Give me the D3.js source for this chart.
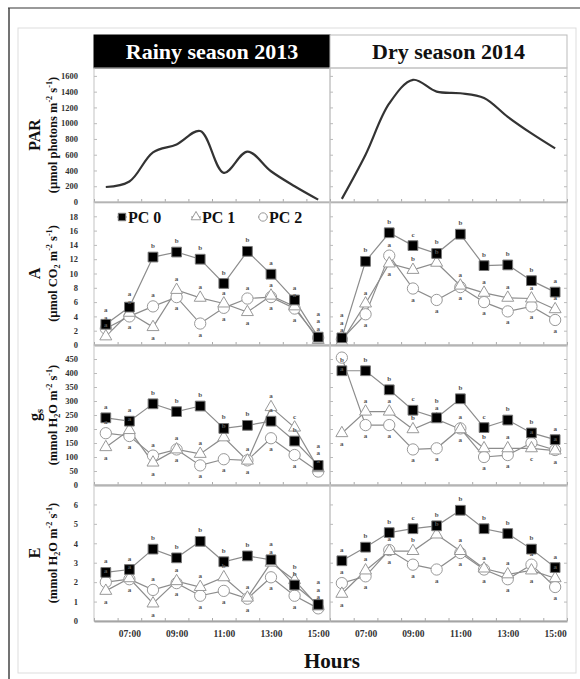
<!DOCTYPE html>
<html>
<head>
<meta charset="utf-8">
<script src="https://cdn.jsdelivr.net/npm/d3@7"></script>
<style>
body { margin: 0; background: #fff; }
text { font-family: "Liberation Serif", "Times New Roman", serif; font-weight: bold; }
</style>
</head>
<body>
<div id="chart"></div>
<script>
var svgWidth = 580;
var svgHeight = 679;

// measurement hours and axis labels
var hours = [6, 7, 8, 9, 10, 11, 12, 13, 14, 15];
var labelHours = [7, 9, 11, 13, 15];
var hourLabels = ["07:00", "09:00", "11:00", "13:00", "15:00"];
var seasons = ["Rainy season 2013", "Dry season 2014"];
var seriesNames = ["PC 0", "PC 1", "PC 2"];

// PAR
var parRainy = [190, 260, 630, 730, 900, 370, 640, 390, 200, 30];
var parDry = [40, 600, 1250, 1550, 1400, 1380, 1320, 1080, 870, 680];

// A (net photosynthesis)
var aRainyPC0 = [2.9, 5.3, 12.3, 13.0, 12.0, 8.6, 13.1, 9.9, 6.3, 1.1];
var aRainyPC1 = [1.2, 4.5, 2.5, 7.7, 6.6, 5.8, 4.6, 6.9, 5.4, 0.7];
var aRainyPC2 = [2.3, 4.0, 5.4, 6.7, 3.0, 5.2, 6.5, 6.7, 5.1, 1.0];
var aDryPC0 = [1.0, 11.7, 15.7, 13.9, 12.8, 15.5, 11.1, 11.2, 9.0, 7.4];
var aDryPC1 = [0.5, 5.8, 11.4, 10.5, 11.5, 8.3, 7.3, 6.6, 6.5, 5.0];
var aDryPC2 = [0.8, 4.3, 12.5, 7.9, 6.3, 8.1, 6.0, 4.7, 5.4, 3.5];

// gs (stomatal conductance)
var gsRainyPC0 = [240, 228, 290, 262, 282, 202, 213, 228, 157, 70];
var gsRainyPC1 = [135, 196, 80, 127, 111, 170, 87, 278, 205, 60];
var gsRainyPC2 = [185, 175, 105, 127, 70, 92, 88, 167, 107, 48];
var gsDryPC0 = [408, 408, 340, 267, 240, 308, 205, 232, 186, 162];
var gsDryPC1 = [185, 262, 262, 199, 235, 199, 131, 131, 131, 123];
var gsDryPC2 = [455, 214, 214, 127, 131, 202, 100, 107, 150, 125];

// E (transpiration)
var eRainyPC0 = [2.5, 2.65, 3.7, 3.25, 4.1, 3.05, 3.35, 3.15, 1.85, 0.85];
var eRainyPC1 = [1.55, 2.2, 0.9, 2.05, 1.75, 2.25, 1.2, 3.0, 2.1, 0.75];
var eRainyPC2 = [2.0, 2.15, 1.6, 1.95, 1.3, 1.55, 1.15, 2.25, 1.3, 0.65];
var eDryPC0 = [3.1, 3.8, 4.55, 4.75, 4.9, 5.7, 4.75, 4.5, 3.7, 2.75];
var eDryPC1 = [1.4, 2.6, 3.6, 3.6, 4.45, 3.6, 2.7, 2.4, 2.6, 2.2];
var eDryPC2 = [1.95, 2.3, 3.65, 2.9, 2.65, 3.5, 2.65, 2.15, 2.9, 1.75];

// significance letters, one per hour
var aRainyLet = ["aabbbbbaaa", "aaaaaaaaaa", "aaaaaaaaaa"];
var aDryLet = ["abbcbbbbba", "aaabbaaaaa", "aaaaaaaaaa"];
var gsRainyLet = ["aabbbbbaba", "aaaaabaaca", "aaaaaaaaaa"];
var gsDryLet = ["bbbcbbcbba", "aaabaabaca", "aaaaaaaaaa"];
var eRainyLet = ["aabbbbbaba", "aaaaabaaba", "aaaaaaaaaa"];
var eDryLet = ["abbcbbbbba", "aaabbaaaaa", "aaaaaaaaaa"];

var svg = d3.select("#chart")
  .append("svg")
  .attr("width", svgWidth)
  .attr("height", svgHeight);

// outer frame of the figure
svg.append("line").attr("x1", 8).attr("x2", 580).attr("y1", 8).attr("y2", 8)
  .attr("stroke", "#999").attr("stroke-width", 2);
svg.append("line").attr("x1", 9).attr("x2", 9).attr("y1", 8).attr("y2", 679)
  .attr("stroke", "#444").attr("stroke-width", 1.5);
svg.append("rect").attr("x", 18).attr("y", 28).attr("width", 558).attr("height", 645)
  .attr("fill", "none").attr("stroke", "#ddd");

var cols = [
  { x0: 94, x1: 330 },
  { x0: 330, x1: 567 }
];

var rows = [
  { key: "par", top: 68, bottom: 202, max: 1700, step: 200, last: 1600,
    title: [["PAR"]],
    units: [["(µmol photons m"], ["-2", "sup"], [" s"], ["-1", "sup"], [")"]] },
  { key: "a", top: 202, bottom: 345, max: 20, step: 2, last: 18,
    title: [["A"]],
    units: [["(µmol CO"], ["2", "sub"], [" m"], ["-2", "sup"], [" s"], ["-1", "sup"], [")"]] },
  { key: "gs", top: 345, bottom: 485, max: 500, step: 50, last: 450,
    title: [["g"], ["s", "sub"]],
    units: [["(mmol H"], ["2", "sub"], ["O m"], ["-2", "sup"], [" s"], ["-1", "sup"], [")"]] },
  { key: "e", top: 485, bottom: 621, max: 7, step: 1, last: 6,
    title: [["E"]],
    units: [["(mmol H"], ["2", "sub"], ["O m"], ["-2", "sup"], [" s"], ["-1", "sup"], [")"]] }
];

var seriesData = {
  a: [[aRainyPC0, aRainyPC1, aRainyPC2], [aDryPC0, aDryPC1, aDryPC2]],
  gs: [[gsRainyPC0, gsRainyPC1, gsRainyPC2], [gsDryPC0, gsDryPC1, gsDryPC2]],
  e: [[eRainyPC0, eRainyPC1, eRainyPC2], [eDryPC0, eDryPC1, eDryPC2]]
};
var letterData = {
  a: [aRainyLet, aDryLet],
  gs: [gsRainyLet, gsDryLet],
  e: [eRainyLet, eDryLet]
};
var parData = [parRainy, parDry];

// text with sub / superscripts
function richText(sel, parts, size) {
  var shift = 0;
  parts.forEach(function(p) {
    var target = 0;
    if (p[1] === "sup") target = -size * 0.4;
    if (p[1] === "sub") target = size * 0.2;
    var t = sel.append("tspan").text(p[0]).attr("dy", target - shift);
    if (p[1]) t.attr("font-size", size * 0.65);
    shift = target;
  });
}

// header
cols.forEach(function(c, i) {
  svg.append("rect")
    .attr("x", c.x0).attr("y", 35)
    .attr("width", c.x1 - c.x0).attr("height", 33)
    .attr("fill", i === 0 ? "#000" : "#fff")
    .attr("stroke", i === 0 ? "#000" : "#bbb");
  svg.append("text")
    .attr("x", (c.x0 + c.x1) / 2).attr("y", 59)
    .attr("text-anchor", "middle")
    .attr("font-size", 22)
    .attr("fill", i === 0 ? "#fff" : "#111")
    .text(seasons[i]);
});

var tickHalf = d3.range(5.5, 15.6, 1);

rows.forEach(function(row) {
  var y = d3.scaleLinear().domain([0, row.max]).range([row.bottom, row.top]);
  var yTicks = d3.range(0, row.last + row.step / 2, row.step);

  cols.forEach(function(c, ci) {
    var x = d3.scaleLinear().domain([5.5, 15.5]).range([c.x0, c.x1]);
    var g = svg.append("g");

    g.append("rect")
      .attr("x", c.x0).attr("y", row.top)
      .attr("width", c.x1 - c.x0).attr("height", row.bottom - row.top)
      .attr("fill", "none").attr("stroke", "#c4c4c4");

    // small inside ticks
    var leftAxis = d3.axisLeft(y).tickValues(yTicks).tickSizeInner(-3).tickSizeOuter(0);
    if (ci === 0) {
      leftAxis.tickPadding(16).tickFormat(d3.format("d"));
    } else {
      leftAxis.tickFormat("");
    }
    var la = g.append("g").attr("transform", `translate(${c.x0},0)`).call(leftAxis);
    la.select(".domain").remove();
    la.selectAll("line").attr("stroke", "#bbb");
    la.selectAll("text").attr("font-size", 8.5).attr("fill", "#333")
      .style("font-family", "'Liberation Serif', serif");

    if (ci === 1) {
      var ra = g.append("g").attr("transform", `translate(${c.x1},0)`)
        .call(d3.axisRight(y).tickValues(yTicks).tickSizeInner(-3).tickSizeOuter(0).tickFormat(""));
      ra.select(".domain").remove();
      ra.selectAll("line").attr("stroke", "#bbb");
    }

    var ba = g.append("g").attr("transform", `translate(0,${row.bottom})`)
      .call(d3.axisBottom(x).tickValues(tickHalf).tickSizeInner(-3).tickSizeOuter(0).tickFormat(""));
    ba.select(".domain").attr("stroke", "#a5a5a5").attr("stroke-width", row.key === "par" ? 1.5 : 2.2);
    ba.selectAll("line").attr("stroke", "#aaa");

    if (row.key === "e") {
      var xl = g.append("g").attr("transform", `translate(0,${row.bottom})`)
        .call(d3.axisBottom(x).tickValues(labelHours).tickSize(0).tickPadding(9)
          .tickFormat(function(d, i) { return hourLabels[i]; }));
      xl.select(".domain").remove();
      xl.selectAll("text").attr("font-size", 9.5).attr("fill", "#333")
        .style("font-family", "'Liberation Serif', serif");
    }

    if (row.key === "par") {
      var parLine = d3.line()
        .x(function(d, i) { return x(hours[i]); })
        .y(function(d) { return y(d); })
        .curve(d3.curveCatmullRom.alpha(0.5));
      g.append("path").datum(parData[ci])
        .attr("d", parLine)
        .attr("fill", "none").attr("stroke", "#333").attr("stroke-width", 2.2);
      return;
    }

    var sets = seriesData[row.key][ci];
    var lets = letterData[row.key][ci];
    var line = d3.line()
      .x(function(d, i) { return x(hours[i]); })
      .y(function(d) { return y(d); });

    sets.forEach(function(vals) {
      g.append("path").datum(vals).attr("d", line)
        .attr("fill", "none").attr("stroke", "#8c8c8c").attr("stroke-width", 1.2);
    });

    var symbols = [d3.symbolSquare, d3.symbolTriangle, d3.symbolCircle];
    var sizes = [95, 62, 100];
    [2, 1, 0].forEach(function(s) {
      g.selectAll(".m" + s)
        .data(sets[s]).enter()
        .append("path")
        .attr("transform", function(d, i) { return `translate(${x(hours[i])},${y(d)})`; })
        .attr("d", d3.symbol().type(symbols[s]).size(sizes[s]))
        .attr("fill", s === 0 ? "#000" : "#fff")
        .attr("stroke", s === 0 ? "#777" : "#999")
        .attr("stroke-width", 1);
    });

    // significance letters, kept inside the panel and pushed apart when they crowd
    function place(v, above) {
      var py = y(v);
      var ly = above ? py - 9 : py + 13;
      if (ly > row.bottom - 2) ly = py - 9;
      if (ly < row.top + 8) ly = py + 13;
      return ly;
    }
    hours.forEach(function(h, i) {
      var p0 = sets[0][i], p1 = sets[1][i], p2 = sets[2][i];
      var items = [
        { s: 0, y: place(p0, true) },
        { s: 1, y: place(p1, p1 >= p2) },
        { s: 2, y: place(p2, p2 > p1) }
      ].sort(function(a, b) { return a.y - b.y; });
      for (var k = items.length - 2; k >= 0; k--) {
        if (items[k].y > items[k + 1].y - 7.5) items[k].y = items[k + 1].y - 7.5;
      }
      items.forEach(function(it) {
        g.append("text")
          .attr("x", x(h)).attr("y", it.y)
          .attr("text-anchor", "middle")
          .attr("font-size", 7).attr("fill", "#555")
          .text(lets[it.s].charAt(i));
      });
    });

    // legend in the first A panel
    if (row.key === "a" && ci === 0) {
      var legX = [122, 196, 263];
      legX.forEach(function(lx, s) {
        g.append("line").attr("x1", lx - 5).attr("x2", lx + 5)
          .attr("y1", 217).attr("y2", 217).attr("stroke", "#8c8c8c");
        g.append("path")
          .attr("transform", `translate(${lx},217)`)
          .attr("d", d3.symbol().type(symbols[s]).size(s === 1 ? 40 : 55))
          .attr("fill", s === 0 ? "#000" : "#fff")
          .attr("stroke", s === 0 ? "#777" : "#999");
        g.append("text").attr("x", lx + 6).attr("y", 223)
          .attr("font-size", 16).attr("fill", "#111")
          .text(seriesNames[s]);
      });
    }
  });

  // axis titles
  var cy = (row.top + row.bottom) / 2;
  var t1 = svg.append("text")
    .attr("transform", `translate(40,${cy}) rotate(-90)`)
    .attr("text-anchor", "middle")
    .attr("font-size", 16).attr("fill", "#111");
  richText(t1, row.title, 16);
  var t2 = svg.append("text")
    .attr("transform", `translate(57,${cy}) rotate(-90)`)
    .attr("text-anchor", "middle")
    .attr("font-size", 12.5).attr("fill", "#111");
  richText(t2, row.units, 12.5);
});

svg.append("text")
  .attr("x", 332).attr("y", 668)
  .attr("text-anchor", "middle")
  .attr("font-size", 21).attr("fill", "#111")
  .text("Hours");
</script>
</body>
</html>
